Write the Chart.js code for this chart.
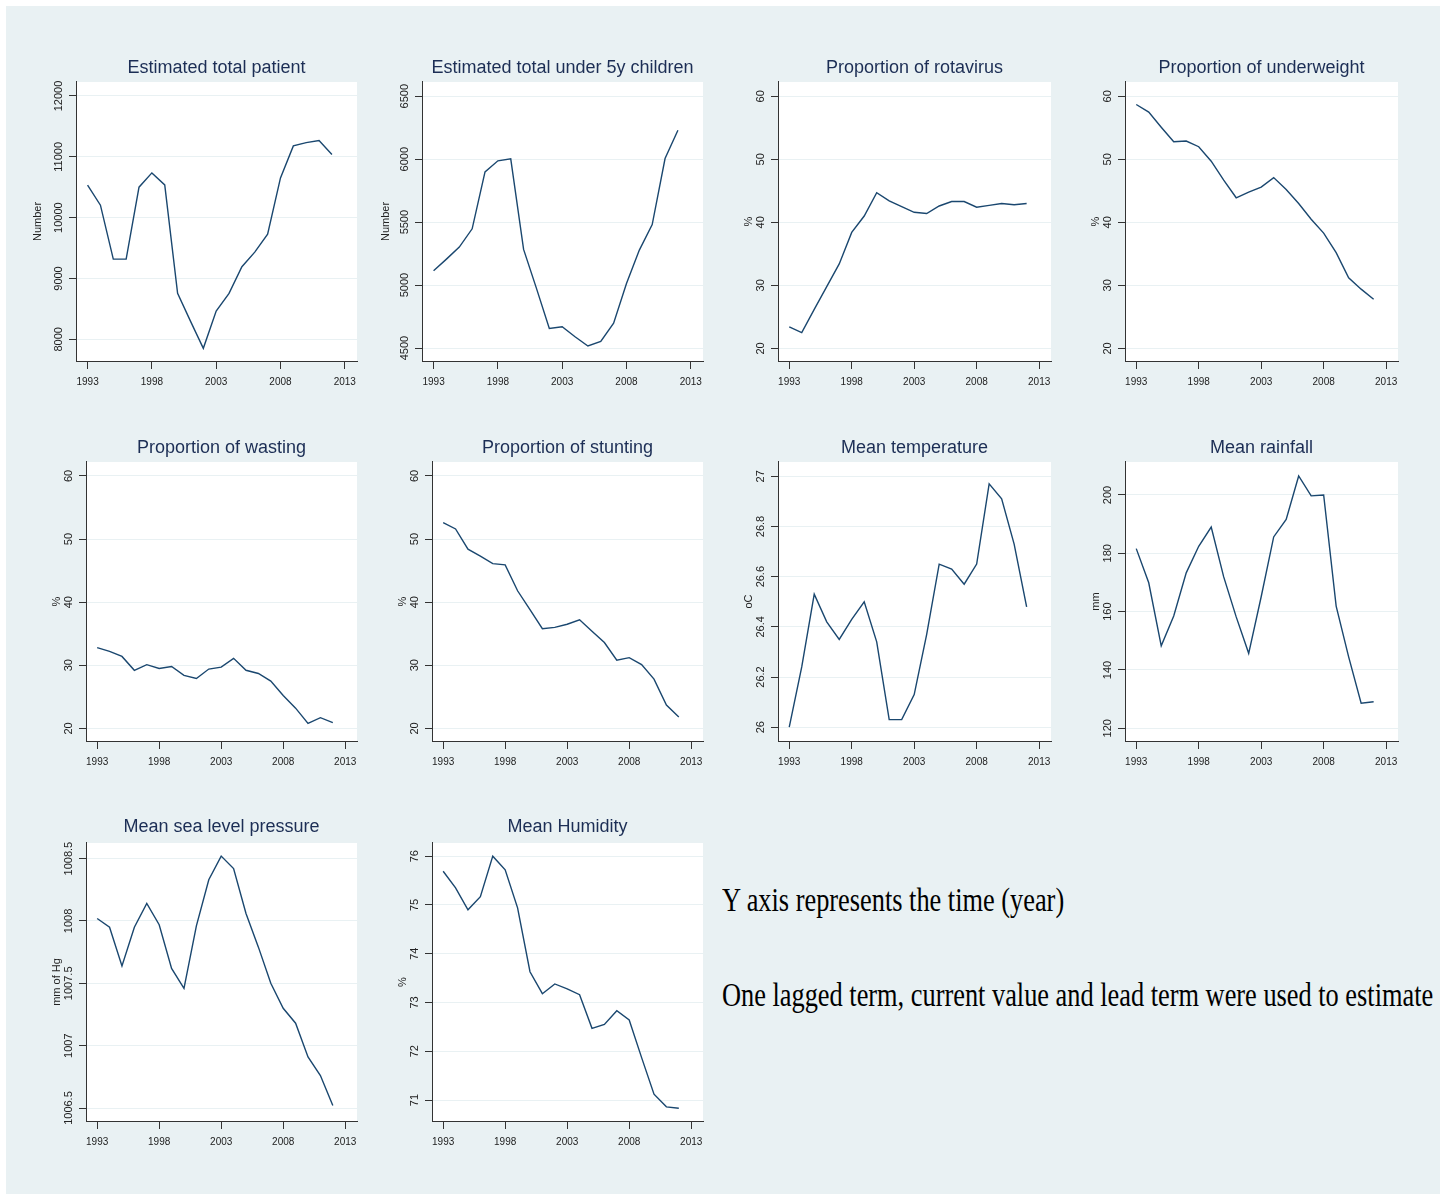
<!DOCTYPE html>
<html>
<head>
<meta charset="utf-8">
<script src="https://cdn.jsdelivr.net/npm/chart.js@4.4.1/dist/chart.umd.min.js"></script>
<style>
  html, body { margin: 0; padding: 0; background: #fff; }
  body { width: 1440px; height: 1194px; position: relative; overflow: hidden; }
  #bg { position: absolute; left: 6px; top: 6px; right: 0; bottom: 0; background: #e9f1f3; }
  canvas { position: absolute; }
  .note { position: absolute; left: 722px; font-family: "Liberation Serif", serif; font-size: 34px; line-height: 34px;
          white-space: nowrap; transform: scaleX(0.775); transform-origin: left top; color: #000; }
</style>
</head>
<body>
<div id="bg"></div>
<div class="note" style="top:883px">Y axis represents the time (year)</div>
<div class="note" style="top:978px">One lagged term, current value and lead term were used to estimate</div>
<script>
// DATA
const years = [1993, 1994, 1995, 1996, 1997, 1998, 1999, 2000, 2001, 2002,
               2003, 2004, 2005, 2006, 2007, 2008, 2009, 2010, 2011, 2012];
const xTickYears = [1993, 1998, 2003, 2008, 2013];

const totalPatient = [10534, 10205, 9319, 9319, 10501, 10736, 10539, 8755, 8300, 7852,
                      8465, 8755, 9193, 9434, 9729, 10654, 11179, 11234, 11267, 11037];
const under5Children = [5114, 5206, 5302, 5447, 5899, 5987, 6003, 5283, 4974, 4656,
                        4669, 4590, 4516, 4553, 4698, 5013, 5278, 5481, 6005, 6230];
const rotavirus = [23.4, 22.5, 26.2, 29.8, 33.4, 38.4, 41.0, 44.7, 43.4, 42.5,
                   41.6, 41.4, 42.6, 43.3, 43.3, 42.4, 42.7, 43.0, 42.8, 43.0];
const underweight = [58.7, 57.5, 55.1, 52.8, 52.9, 52.0, 49.7, 46.7, 43.9, 44.8,
                     45.6, 47.1, 45.2, 43.0, 40.5, 38.3, 35.2, 31.2, 29.4, 27.8];
const wasting = [32.8, 32.2, 31.4, 29.2, 30.1, 29.5, 29.8, 28.4, 27.9, 29.4,
                 29.7, 31.1, 29.2, 28.7, 27.5, 25.2, 23.2, 20.8, 21.7, 20.9];
const stunting = [52.6, 51.6, 48.4, 47.3, 46.1, 45.9, 41.8, 38.8, 35.8, 36.0,
                  36.5, 37.2, 35.4, 33.6, 30.8, 31.2, 30.1, 27.8, 23.7, 21.8];
const temperature = [26.00, 26.24, 26.53, 26.42, 26.35, 26.43, 26.50, 26.34, 26.03, 26.03,
                     26.13, 26.37, 26.65, 26.63, 26.57, 26.65, 26.97, 26.91, 26.73, 26.48];
const rainfall = [181.6, 169.9, 148.3, 158.5, 173.3, 182.4, 189.0, 171.9, 158.2, 145.7,
                  165.1, 185.6, 191.6, 206.5, 199.7, 200.0, 161.9, 144.5, 128.6, 129.1];
const pressure = [1008.02, 1007.95, 1007.64, 1007.95, 1008.14, 1007.97, 1007.62, 1007.46, 1007.96, 1008.33,
                  1008.52, 1008.42, 1008.06, 1007.79, 1007.50, 1007.30, 1007.18, 1006.91, 1006.76, 1006.52];
const humidity = [75.69, 75.35, 74.90, 75.17, 76.00, 75.72, 74.94, 73.63, 73.18, 73.38,
                  73.28, 73.16, 72.47, 72.55, 72.83, 72.64, 71.87, 71.12, 70.86, 70.83];

const ticksPatient = [8000, 9000, 10000, 11000, 12000];
const ticksUnder5 = [4500, 5000, 5500, 6000, 6500];
const ticksPercent = [20, 30, 40, 50, 60];
const ticksTemp = [26, 26.2, 26.4, 26.6, 26.8, 27];
const ticksRain = [120, 140, 160, 180, 200];
const ticksPressure = [1006.5, 1007, 1007.5, 1008, 1008.5];
const ticksHumidity = [71, 72, 73, 74, 75, 76];

// panel layout: plot box (L,R,T,B), axis range, y title offset, title gap
const panels = [
  {title: 'Estimated total patient', axis: 'Number', values: totalPatient, ticks: ticksPatient, min: 7644, max: 12230, L: 76, R: 357, T: 82, B: 361, yOff: 38, gap: 14},
  {title: 'Estimated total under 5y children', axis: 'Number', values: under5Children, ticks: ticksUnder5, min: 4397, max: 6613, L: 422, R: 703, T: 82, B: 361, yOff: 36, gap: 14},
  {title: 'Proportion of rotavirus', axis: '%', values: rotavirus, ticks: ticksPercent, min: 18, max: 62.27, L: 778, R: 1051, T: 82, B: 361, yOff: 29, gap: 14},
  {title: 'Proportion of underweight', axis: '%', values: underweight, ticks: ticksPercent, min: 18, max: 62.27, L: 1125, R: 1398, T: 82, B: 361, yOff: 29, gap: 14},
  {title: 'Proportion of wasting', axis: '%', values: wasting, ticks: ticksPercent, min: 18, max: 62.2, L: 86, R: 357, T: 462, B: 741, yOff: 29, gap: 14.3},
  {title: 'Proportion of stunting', axis: '%', values: stunting, ticks: ticksPercent, min: 18, max: 62.2, L: 432, R: 703, T: 462, B: 741, yOff: 29, gap: 14.3},
  {title: 'Mean temperature', axis: 'oC', values: temperature, ticks: ticksTemp, min: 25.945, max: 27.057, L: 778, R: 1051, T: 462, B: 741, yOff: 29, gap: 14.3},
  {title: 'Mean rainfall', axis: 'mm', values: rainfall, ticks: ticksRain, min: 115.65, max: 211.3, L: 1125, R: 1398, T: 462, B: 741, yOff: 29, gap: 14.3},
  {title: 'Mean sea level pressure', axis: 'mm of Hg', values: pressure, ticks: ticksPressure, min: 1006.396, max: 1008.625, L: 86, R: 357, T: 843, B: 1121, yOff: 29, gap: 16.3},
  {title: 'Mean Humidity', axis: '%', values: humidity, ticks: ticksHumidity, min: 70.57, max: 76.27, L: 432, R: 703, T: 843, B: 1121, yOff: 29, gap: 16.3}
];

const FONT = 'Liberation Sans';
const measureCtx = document.createElement('canvas').getContext('2d');
function widestLabel(values) {
  measureCtx.font = '11px "' + FONT + '"';
  return Math.max(...values.map(v => measureCtx.measureText(String(v)).width));
}

// white plot region
const plotBg = {
  id: 'plotBg',
  beforeDraw(chart) {
    const {ctx, chartArea: a} = chart;
    ctx.save();
    ctx.fillStyle = '#ffffff';
    ctx.fillRect(a.left, a.top, a.right - a.left, a.bottom - a.top);
    ctx.restore();
  }
};

panels.forEach(p => {
  const yW = 50, xH = 32, titleH = 30, padR = 20;
  const w = (p.R - p.L) + yW + padR;
  const h = titleH + (p.B - p.T) + xH;
  const cv = document.createElement('canvas');
  cv.width = w; cv.height = h;
  cv.style.left = (p.L - yW) + 'px';
  cv.style.top = (p.T - titleH) + 'px';
  cv.style.width = w + 'px';
  cv.style.height = h + 'px';
  document.body.appendChild(cv);

  const titleBottom = p.gap - 10.8;
  const titleTop = titleH - 21.6 - titleBottom;

  new Chart(cv, {
    type: 'line',
    data: {
      datasets: [{
        data: years.map((yr, i) => ({x: yr, y: p.values[i]})),
        borderColor: '#1a476f',
        borderWidth: 1.4,
        pointRadius: 0,
        fill: false,
        tension: 0
      }]
    },
    options: {
      responsive: false,
      animation: false,
      events: [],
      layout: {padding: {left: 0, top: 0, right: padR, bottom: 0}},
      plugins: {
        legend: {display: false},
        tooltip: {enabled: false},
        title: {
          display: true,
          text: p.title,
          fullSize: false,
          color: '#1c2e55',
          font: {family: FONT, size: 18, weight: 'normal', lineHeight: 1.2},
          padding: {top: titleTop, bottom: titleBottom}
        }
      },
      scales: {
        x: {
          type: 'linear',
          min: 1992.1,
          max: 2013.95,
          afterBuildTicks: s => { s.ticks = xTickYears.map(v => ({value: v})); },
          afterFit: s => { s.height = xH; },
          ticks: {
            autoSkip: false, minRotation: 0, maxRotation: 0, padding: 7.5,
            color: '#222', font: {family: FONT, size: 10},
            callback: v => String(v)
          },
          grid: {drawOnChartArea: false, drawTicks: true, tickLength: 8, tickColor: '#333'},
          border: {display: true, color: '#333', width: 1}
        },
        y: {
          type: 'linear',
          min: p.min,
          max: p.max,
          afterBuildTicks: s => { s.ticks = p.ticks.map(v => ({value: v})); },
          afterFit: s => { s.width = yW; },
          ticks: {
            autoSkip: false, minRotation: 90, maxRotation: 90, crossAlign: 'center',
            padding: 17 - 7 - widestLabel(p.ticks) / 2,
            color: '#222', font: {family: FONT, size: 11},
            callback: v => String(v)
          },
          grid: {color: '#e9f1f3', lineWidth: 1, drawTicks: true, tickLength: 7, tickColor: '#333'},
          border: {display: true, color: '#333', width: 1},
          title: {
            display: true, text: p.axis, color: '#222',
            font: {family: FONT, size: 11, lineHeight: 1.2},
            padding: {top: yW - p.yOff - 6.6, bottom: 0}
          }
        }
      }
    },
    plugins: [plotBg]
  });
});
</script>
</body>
</html>
